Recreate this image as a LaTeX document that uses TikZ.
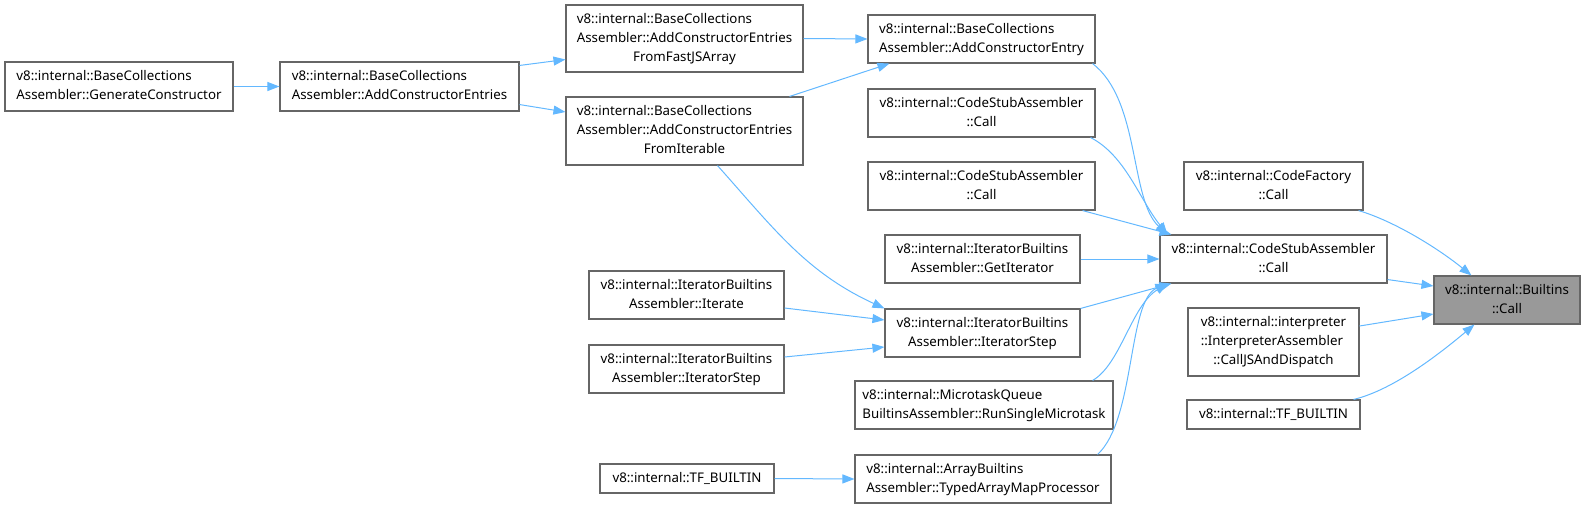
\documentclass[tikz,border=0pt]{standalone}
\usepackage{fontspec}
\setmainfont{Noto Sans}
\usetikzlibrary{arrows.meta}
\definecolor{edgeblue}{HTML}{63B8FF}
\definecolor{boxline}{HTML}{666666}
\definecolor{boxfill}{HTML}{999999}
%lines left aligned, last line centred
\newcommand{\dxlabel}[2]{\begin{tabular}{@{}l@{}}#1\\\multicolumn{1}{@{}c@{}}{#2}\end{tabular}}
\tikzset{
  fnbox/.style={draw=boxline, line width=1.1pt, fill=white, inner sep=0pt, font=\fontsize{13.3}{19}\selectfont},
  callee/.style={fnbox, fill=boxfill},
  calls/.style={draw=edgeblue, line width=1pt, -{Triangle[length=12pt,width=9pt]}}
}
\begin{document}
\begin{tikzpicture}[x=1pt, y=-1pt]
    \useasboundingbox (0,0) rectangle (1586,509);
    %base collections
    \node[fnbox, minimum width=228, minimum height=49] (gen) at (119,86.5) {\dxlabel{v8::internal::BaseCollections}{Assembler::GenerateConstructor}};
    \node[fnbox, minimum width=239, minimum height=49] (ace) at (399.5,86.5) {\dxlabel{v8::internal::BaseCollections}{Assembler::AddConstructorEntries}};
    \node[fnbox, minimum width=237, minimum height=67] (fast) at (684.5,38.5) {\dxlabel{v8::internal::BaseCollections\\Assembler::AddConstructorEntries}{FromFastJSArray}};
    \node[fnbox, minimum width=237, minimum height=68] (iter) at (684.5,131) {\dxlabel{v8::internal::BaseCollections\\Assembler::AddConstructorEntries}{FromIterable}};
    \node[fnbox, minimum width=227, minimum height=48] (entry) at (981.5,39) {\dxlabel{v8::internal::BaseCollections}{Assembler::AddConstructorEntry}};
    %code stub assembler
    \node[fnbox, minimum width=227, minimum height=48] (csa1) at (981.5,113) {\dxlabel{v8::internal::CodeStubAssembler}{::Call}};
    \node[fnbox, minimum width=227, minimum height=48] (csa2) at (981.5,186) {\dxlabel{v8::internal::CodeStubAssembler}{::Call}};
    %iterator builtins
    \node[fnbox, minimum width=195, minimum height=48] (getit) at (982.5,259) {\dxlabel{v8::internal::IteratorBuiltins}{Assembler::GetIterator}};
    \node[fnbox, minimum width=195, minimum height=48] (stepm) at (982.5,333) {\dxlabel{v8::internal::IteratorBuiltins}{Assembler::IteratorStep}};
    \node[fnbox, minimum width=195, minimum height=48] (iterate) at (686.5,295) {\dxlabel{v8::internal::IteratorBuiltins}{Assembler::Iterate}};
    \node[fnbox, minimum width=195, minimum height=48] (stepl) at (686.5,369) {\dxlabel{v8::internal::IteratorBuiltins}{Assembler::IteratorStep}};
    %microtask and array
    \node[fnbox, minimum width=258, minimum height=48] (micro) at (984,405) {\dxlabel{v8::internal::MicrotaskQueue}{BuiltinsAssembler::RunSingleMicrotask}};
    \node[fnbox, minimum width=256, minimum height=48] (arrmap) at (983,479) {\dxlabel{v8::internal::ArrayBuiltins}{Assembler::TypedArrayMapProcessor}};
    \node[fnbox, minimum width=174, minimum height=29] (tfl) at (687,478.5) {v8::internal::TF\_BUILTIN};
    %right column
    \node[fnbox, minimum width=179, minimum height=48] (cf) at (1273.5,186) {\dxlabel{v8::internal::CodeFactory}{::Call}};
    \node[fnbox, minimum width=227, minimum height=48] (csam) at (1273.5,259) {\dxlabel{v8::internal::CodeStubAssembler}{::Call}};
    \node[fnbox, minimum width=171, minimum height=68] (interp) at (1273.5,342) {\dxlabel{v8::internal::interpreter\\::InterpreterAssembler}{::CallJSAndDispatch}};
    \node[fnbox, minimum width=173, minimum height=29] (tfr) at (1273.5,414.5) {v8::internal::TF\_BUILTIN};
    %called function
    \node[callee, minimum width=146, minimum height=48] (bc) at (1507,300) {\dxlabel{v8::internal::Builtins}{::Call}};

    %edges left part
    \draw[calls] (gen.east) -- (ace.west);
    \draw[calls] ([yshift=-4pt]ace.north east) -- ([yshift=-21pt]fast.west);
    \draw[calls] ([yshift=7pt]ace.south east) -- ([yshift=19pt]iter.west);
    \draw[calls] (fast.east) -- (entry.west);
    \draw[calls] ([xshift=-14pt]iter.north east) -- ([xshift=22pt]entry.south west);
    \draw[calls] ([xshift=33pt]iter.south) .. controls +(57,64) and +(-78,-36) .. (stepm.north west);
    \draw[calls] ([yshift=-13pt]iterate.east) -- ([yshift=13pt]stepm.west);
    \draw[calls] ([yshift=12pt]stepl.east) -- ([yshift=-14pt]stepm.west);
    \draw[calls] (tfl.east) -- (arrmap.west);
    %edges into code stub assembler
    \draw[calls] ([xshift=-3pt]entry.south east) .. controls +(48,37) and +(-38,-35) .. ([xshift=8pt]csam.north west);
    \draw[calls] ([xshift=-5pt]csa1.south east) .. controls +(35,18) and +(-28,-35) .. ([xshift=8pt]csam.north west);
    \draw[calls] ([xshift=-13pt]csa2.south east) -- ([xshift=12pt]csam.north west);
    \draw[calls] (getit.east) -- (csam.west);
    \draw[calls] (stepm.north east) -- ([xshift=12pt]csam.south west);
    \draw[calls] ([xshift=-21pt]micro.north east) .. controls +(28,-16) and +(-36,22) .. ([xshift=8pt]csam.south west);
    \draw[calls] ([xshift=-14pt]arrmap.north east) .. controls +(38,-35) and +(-40,17) .. ([xshift=8pt]csam.south west);
    %edges into builtins
    \draw[calls] ([xshift=-5pt]cf.south east) .. controls +(37,11) and +(-32,-26) .. ([xshift=38pt]bc.north west);
    \draw[calls] ([yshift=4pt]csam.south east) -- ([yshift=14pt]bc.west);
    \draw[calls] ([yshift=16pt]interp.east) -- ([yshift=-14pt]bc.west);
    \draw[calls] ([xshift=-7pt]tfr.north east) .. controls +(42,-10) and +(-30,25) .. ([xshift=41pt]bc.south west);
\end{tikzpicture}
\end{document}
